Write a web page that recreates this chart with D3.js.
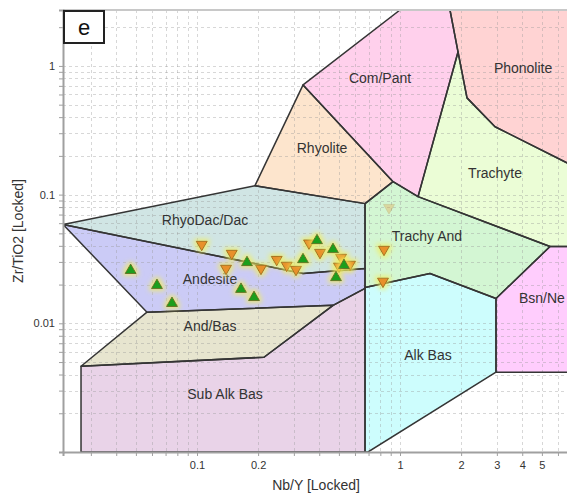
<!DOCTYPE html>
<html>
<head>
<meta charset="utf-8">
<script src="https://cdn.jsdelivr.net/npm/d3@7"></script>
<style>
  html, body { margin: 0; padding: 0; background: #fff; }
  svg { display: block; font-family: "Liberation Sans", Arial, sans-serif; }
</style>
</head>
<body>
<svg id="chart" width="567" height="494"></svg>
<script>
// Winchester & Floyd Zr/TiO2 vs Nb/Y discrimination fields, as [Nb/Y, Zr/TiO2] vertices
const fieldNames = ["Com/Pant", "Phonolite", "Rhyolite", "Trachyte", "RhyoDac/Dac", "Trachy And",
                    "Andesite", "Bsn/Ne", "Alk Bas", "And/Bas", "Sub Alk Bas"];
const fieldVertices = [
  [[0.333,0.712],[1.0,2.72],[1.763,2.72],[1.931,1.284],[1.227,0.0965],[0.924,0.126]],
  [[1.763,2.72],[1.931,1.284],[2.138,0.5647],[2.938,0.3366],[10,0.128],[10,2.72]],
  [[0.193,0.1174],[0.333,0.712],[0.924,0.126],[0.6725,0.0851]],
  [[1.227,0.0965],[1.931,1.284],[2.138,0.5647],[2.938,0.3366],[10,0.128],[10,0.0395],[5.483,0.0395]],
  [[0.0219,0.0585],[0.193,0.1174],[0.6725,0.0851],[0.6725,0.0267],[0.333,0.0244]],
  [[0.6725,0.0851],[0.924,0.126],[1.227,0.0965],[5.483,0.0395],[2.971,0.0156],[1.405,0.0244],[0.6725,0.019]],
  [[0.0219,0.0585],[0.333,0.0244],[0.6725,0.0267],[0.6725,0.0187],[0.468,0.0138],[0.0567,0.0122]],
  [[2.971,0.0156],[5.483,0.0395],[10,0.0395],[10,0.00417],[2.971,0.00417]],
  [[0.6725,0.019],[1.405,0.0244],[2.971,0.0156],[2.971,0.00417],[0.6957,0.001],[0.6725,0.001]],
  [[0.0567,0.0122],[0.468,0.0138],[0.2138,0.00545],[0.02683,0.00464]],
  [[0.02683,0.00464],[0.2138,0.00545],[0.468,0.0138],[0.6725,0.0187],[0.6725,0.001],[0.02683,0.001]]
];
const fieldColors = ["#ffd0ec", "#ffd3d3", "#fde5cd", "#ebfdd6", "#d0e5e4", "#d3f6d3",
                     "#cbcbf6", "#ffcdfd", "#cdfdfd", "#e7e5cf", "#e9d3e8"];
// label anchor points [Nb/Y, Zr/TiO2]
const fieldLabelPos = [[0.797,0.807],[4.04,0.965],[0.413,0.231],[2.94,0.148],[0.1095,0.064],[1.358,0.0481],
                       [0.1159,0.0219],[3.857,0.0156],[1.374,0.00565],[0.1159,0.00948],[0.1374,0.00282]];

// samples: Nb/Y and Zr/TiO2
const groupA_NbY  = [0.0471,0.0635,0.0753,0.1647,0.1763,0.1909,0.3328,0.3901,0.4677,0.5298,0.4838];
const groupA_ZrTi = [0.0258,0.0197,0.0143,0.0184,0.0297,0.0159,0.0313,0.0440,0.0375,0.0282,0.0227];
const groupB_NbY  = [0.1055,0.1483,0.1390,0.2066,0.2470,0.2766,0.3074,0.3562,0.4036,0.5122,0.5006,0.5672,0.834,0.8245];
const groupB_ZrTi = [0.0410,0.0349,0.0267,0.0267,0.0313,0.0282,0.0262,0.0420,0.0355,0.0325,0.0277,0.0287,0.0375,0.0212];
const fadedB_NbY  = [0.8827];
const fadedB_ZrTi = [0.0793];

const xTickLabels = [0.1, 0.2, 1, 2, 3, 4, 5];
const yTickLabels = [1, 0.1, 0.01];

const svg = d3.select("#chart");
const pLeft = 63, pRight = 569, pTop = 10, pBottom = 452;

const x = d3.scaleLog().domain([0.02187, 6.80]).range([pLeft, pRight]);
const y = d3.scaleLog().domain([0.001, 2.72]).range([pBottom, pTop]);

function logTicks(lo, hi) {
  const out = [];
  for (let e = Math.floor(Math.log10(lo)); e <= Math.ceil(Math.log10(hi)); e++) {
    for (let m = 1; m < 10; m++) {
      const v = +(m * Math.pow(10, e)).toPrecision(6);
      if (v >= lo * 0.9999 && v <= hi * 1.0001) out.push(v);
    }
  }
  return out;
}
const xTicks = logTicks(0.022, 6.8);
const yTicks = logTicks(0.001, 2.72);

const defs = svg.append("defs");
defs.append("clipPath").attr("id", "plotClip")
  .append("rect").attr("x", pLeft).attr("y", pTop).attr("width", pRight - pLeft).attr("height", pBottom - pTop);

const glow = defs.append("filter").attr("id", "glow")
  .attr("x", "-80%").attr("y", "-80%").attr("width", "260%").attr("height", "260%");
glow.append("feMorphology").attr("in", "SourceAlpha").attr("operator", "dilate").attr("radius", 2).attr("result", "dil");
glow.append("feFlood").attr("flood-color", "#f2ee5a").attr("flood-opacity", 0.75).attr("result", "col");
glow.append("feComposite").attr("in", "col").attr("in2", "dil").attr("operator", "in").attr("result", "halo");
glow.append("feGaussianBlur").attr("in", "halo").attr("stdDeviation", 2.4).attr("result", "blur");
const merge = glow.append("feMerge");
merge.append("feMergeNode").attr("in", "blur");
merge.append("feMergeNode").attr("in", "SourceGraphic");

const plot = svg.append("g").attr("clip-path", "url(#plotClip)");

const line = d3.line().x(d => x(d[0])).y(d => y(d[1]));

// field fills
plot.append("g").selectAll("path")
  .data(fieldVertices)
  .join("path")
  .attr("d", d => line(d) + "Z")
  .attr("fill", (d, i) => fieldColors[i])
  .attr("stroke", "none");

// dashed grid over the fields
const grid = plot.append("g")
  .attr("stroke", "rgba(150,150,150,0.38)")
  .attr("stroke-width", 1)
  .attr("stroke-dasharray", "3,3");
grid.selectAll("line.vx").data(xTicks).join("line")
  .attr("x1", d => Math.round(x(d)) + 0.5).attr("x2", d => Math.round(x(d)) + 0.5)
  .attr("y1", pTop).attr("y2", pBottom);
grid.selectAll("line.hy").data(yTicks).join("line")
  .attr("y1", d => Math.round(y(d)) + 0.5).attr("y2", d => Math.round(y(d)) + 0.5)
  .attr("x1", pLeft).attr("x2", pRight);

// field boundaries
plot.append("g").selectAll("path")
  .data(fieldVertices)
  .join("path")
  .attr("d", d => line(d) + "Z")
  .attr("fill", "none")
  .attr("stroke", "#353535")
  .attr("stroke-width", 1.5)
  .attr("stroke-linejoin", "round");

// field names
svg.append("g").selectAll("text")
  .data(fieldNames)
  .join("text")
  .attr("x", (d, i) => x(fieldLabelPos[i][0]))
  .attr("y", (d, i) => y(fieldLabelPos[i][1]))
  .attr("text-anchor", d => d === "Bsn/Ne" ? "start" : "middle")
  .attr("dominant-baseline", "central")
  .attr("font-size", 14)
  .attr("fill", "#333")
  .text(d => d);

// frame
svg.append("line").attr("x1", pLeft).attr("x2", pRight).attr("y1", pTop).attr("y2", pTop)
  .attr("stroke", "#c8c8c8").attr("stroke-width", 2);

// axes
const fmtX = d => xTickLabels.some(v => Math.abs(v - d) < 1e-9) ? String(d) : "";
const fmtY = d => yTickLabels.some(v => Math.abs(v - d) < 1e-9) ? String(d) : "";

const xAxis = svg.append("g").attr("transform", `translate(0,${pBottom})`)
  .call(d3.axisBottom(x).tickValues(xTicks).tickFormat(fmtX).tickSize(4).tickPadding(5));
const yAxis = svg.append("g").attr("transform", `translate(${pLeft},0)`)
  .call(d3.axisLeft(y).tickValues(yTicks).tickFormat(fmtY).tickSize(4).tickPadding(4));
[xAxis, yAxis].forEach(g => {
  g.select(".domain").attr("stroke", "#a0a0a0").attr("stroke-width", 2);
  g.selectAll(".tick line").attr("stroke", "#a0a0a0");
  g.selectAll(".tick text").attr("fill", "#333").attr("font-size", 11)
    .attr("font-family", "'Liberation Sans', Arial, sans-serif");
});

svg.append("text")
  .attr("x", (pLeft + pRight) / 2).attr("y", 485)
  .attr("text-anchor", "middle").attr("dominant-baseline", "central")
  .attr("font-size", 14).attr("fill", "#333")
  .text("Nb/Y [Locked]");
svg.append("text")
  .attr("transform", `translate(18,${(pTop + pBottom) / 2}) rotate(-90)`)
  .attr("text-anchor", "middle").attr("dominant-baseline", "central")
  .attr("font-size", 14).attr("fill", "#333")
  .text("Zr/TiO2 [Locked]");

// samples
const triUp = d3.symbol().type(d3.symbolTriangle).size(52);
const pts = svg.append("g");
pts.selectAll("path.fb").data(fadedB_NbY).join("path")
  .attr("d", triUp())
  .attr("transform", (d, i) => `translate(${x(d)},${y(fadedB_ZrTi[i])}) rotate(180)`)
  .attr("fill", "#e8a040").attr("stroke", "#b08030").attr("stroke-width", 0.8)
  .attr("opacity", 0.35);
pts.selectAll("path.b").data(groupB_NbY).join("path")
  .attr("d", triUp())
  .attr("transform", (d, i) => `translate(${x(d)},${y(groupB_ZrTi[i])}) rotate(180)`)
  .attr("fill", "#e8902c").attr("stroke", "#9a6418").attr("stroke-width", 0.9)
  .attr("filter", "url(#glow)");
pts.selectAll("path.a").data(groupA_NbY).join("path")
  .attr("d", triUp())
  .attr("transform", (d, i) => `translate(${x(d)},${y(groupA_ZrTi[i])})`)
  .attr("fill", "#1f9e1f").attr("stroke", "#5a6a20").attr("stroke-width", 0.9)
  .attr("filter", "url(#glow)");

// panel letter
svg.append("rect").attr("x", 64).attr("y", 11).attr("width", 40).attr("height", 32)
  .attr("fill", "#fff").attr("stroke", "#222").attr("stroke-width", 2);
svg.append("text").attr("x", 84).attr("y", 27.5)
  .attr("text-anchor", "middle").attr("dominant-baseline", "central")
  .attr("font-size", 22).attr("fill", "#111").text("e");
</script>
</body>
</html>
